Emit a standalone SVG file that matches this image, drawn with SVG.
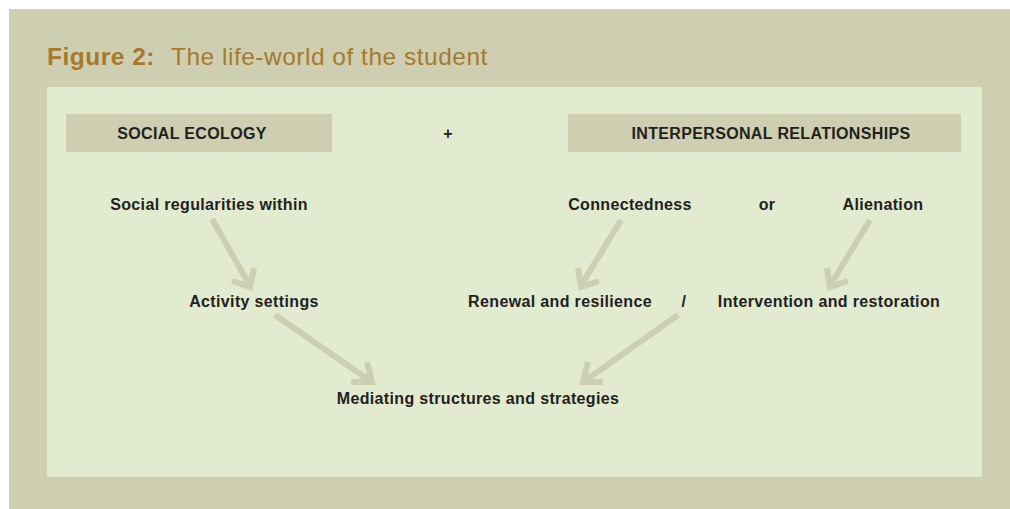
<svg xmlns="http://www.w3.org/2000/svg" width="1010" height="509" viewBox="0 0 1010 509">
<style>
.h{font-family:"Liberation Sans",Arial,sans-serif;font-weight:bold;font-size:16px;letter-spacing:0.35px;fill:#231f20;text-anchor:middle}
.a{stroke:#cdcfb1;stroke-width:6;fill:none;stroke-linecap:butt}
</style>
<rect x="9" y="9" width="1001" height="500" fill="#cdcfb0"/>
<text x="47" y="65" font-family="Liberation Sans,Arial,sans-serif" font-size="24.5" letter-spacing="0.5" fill="#a8792c"><tspan font-weight="bold">Figure 2:</tspan><tspan x="171">The life-world of the student</tspan></text>
<rect x="47" y="87" width="935" height="390" fill="#e2eacf"/>
<g id="social-ecology"><rect x="66" y="114" width="266" height="38" fill="#cdcfb0"/><text class="h" x="192" y="139">SOCIAL ECOLOGY</text></g>
<g id="plus"><text class="h" x="448" y="139">+</text></g>
<g id="interpersonal"><rect x="568" y="114" width="393" height="38" fill="#cdcfb0"/><text class="h" x="771" y="139">INTERPERSONAL RELATIONSHIPS</text></g>
<g id="social-regularities"><text class="h" x="209" y="210">Social regularities within</text></g>
<g id="connectedness"><text class="h" x="630" y="210">Connectedness</text></g>
<g id="or"><text class="h" x="767" y="210">or</text></g>
<g id="alienation"><text class="h" x="883" y="210">Alienation</text></g>
<g id="activity"><text class="h" x="254" y="307">Activity settings</text></g>
<g id="renewal"><text class="h" x="560" y="307">Renewal and resilience</text></g>
<g id="slash"><text class="h" x="684" y="307">/</text></g>
<g id="intervention"><text class="h" x="829" y="307">Intervention and restoration</text></g>
<g id="mediating"><text class="h" x="478" y="404">Mediating structures and strategies</text></g>
<g id="connectors">
<path class="a" d="M212,219 L249,284 M232,281 L250,287 L254,268"/>
<path class="a" d="M621,220 L582,284 M578,268 L581,287 L599,281"/>
<path class="a" d="M870,220 L831,284 M827,268 L830,287 L848,281"/>
<path class="a" d="M275,315 L369,380 M351,382 L372,382 L367,362"/>
<path class="a" d="M678,315 L586,380 M588,362 L583,382 L603,382"/>
</g>
</svg>
